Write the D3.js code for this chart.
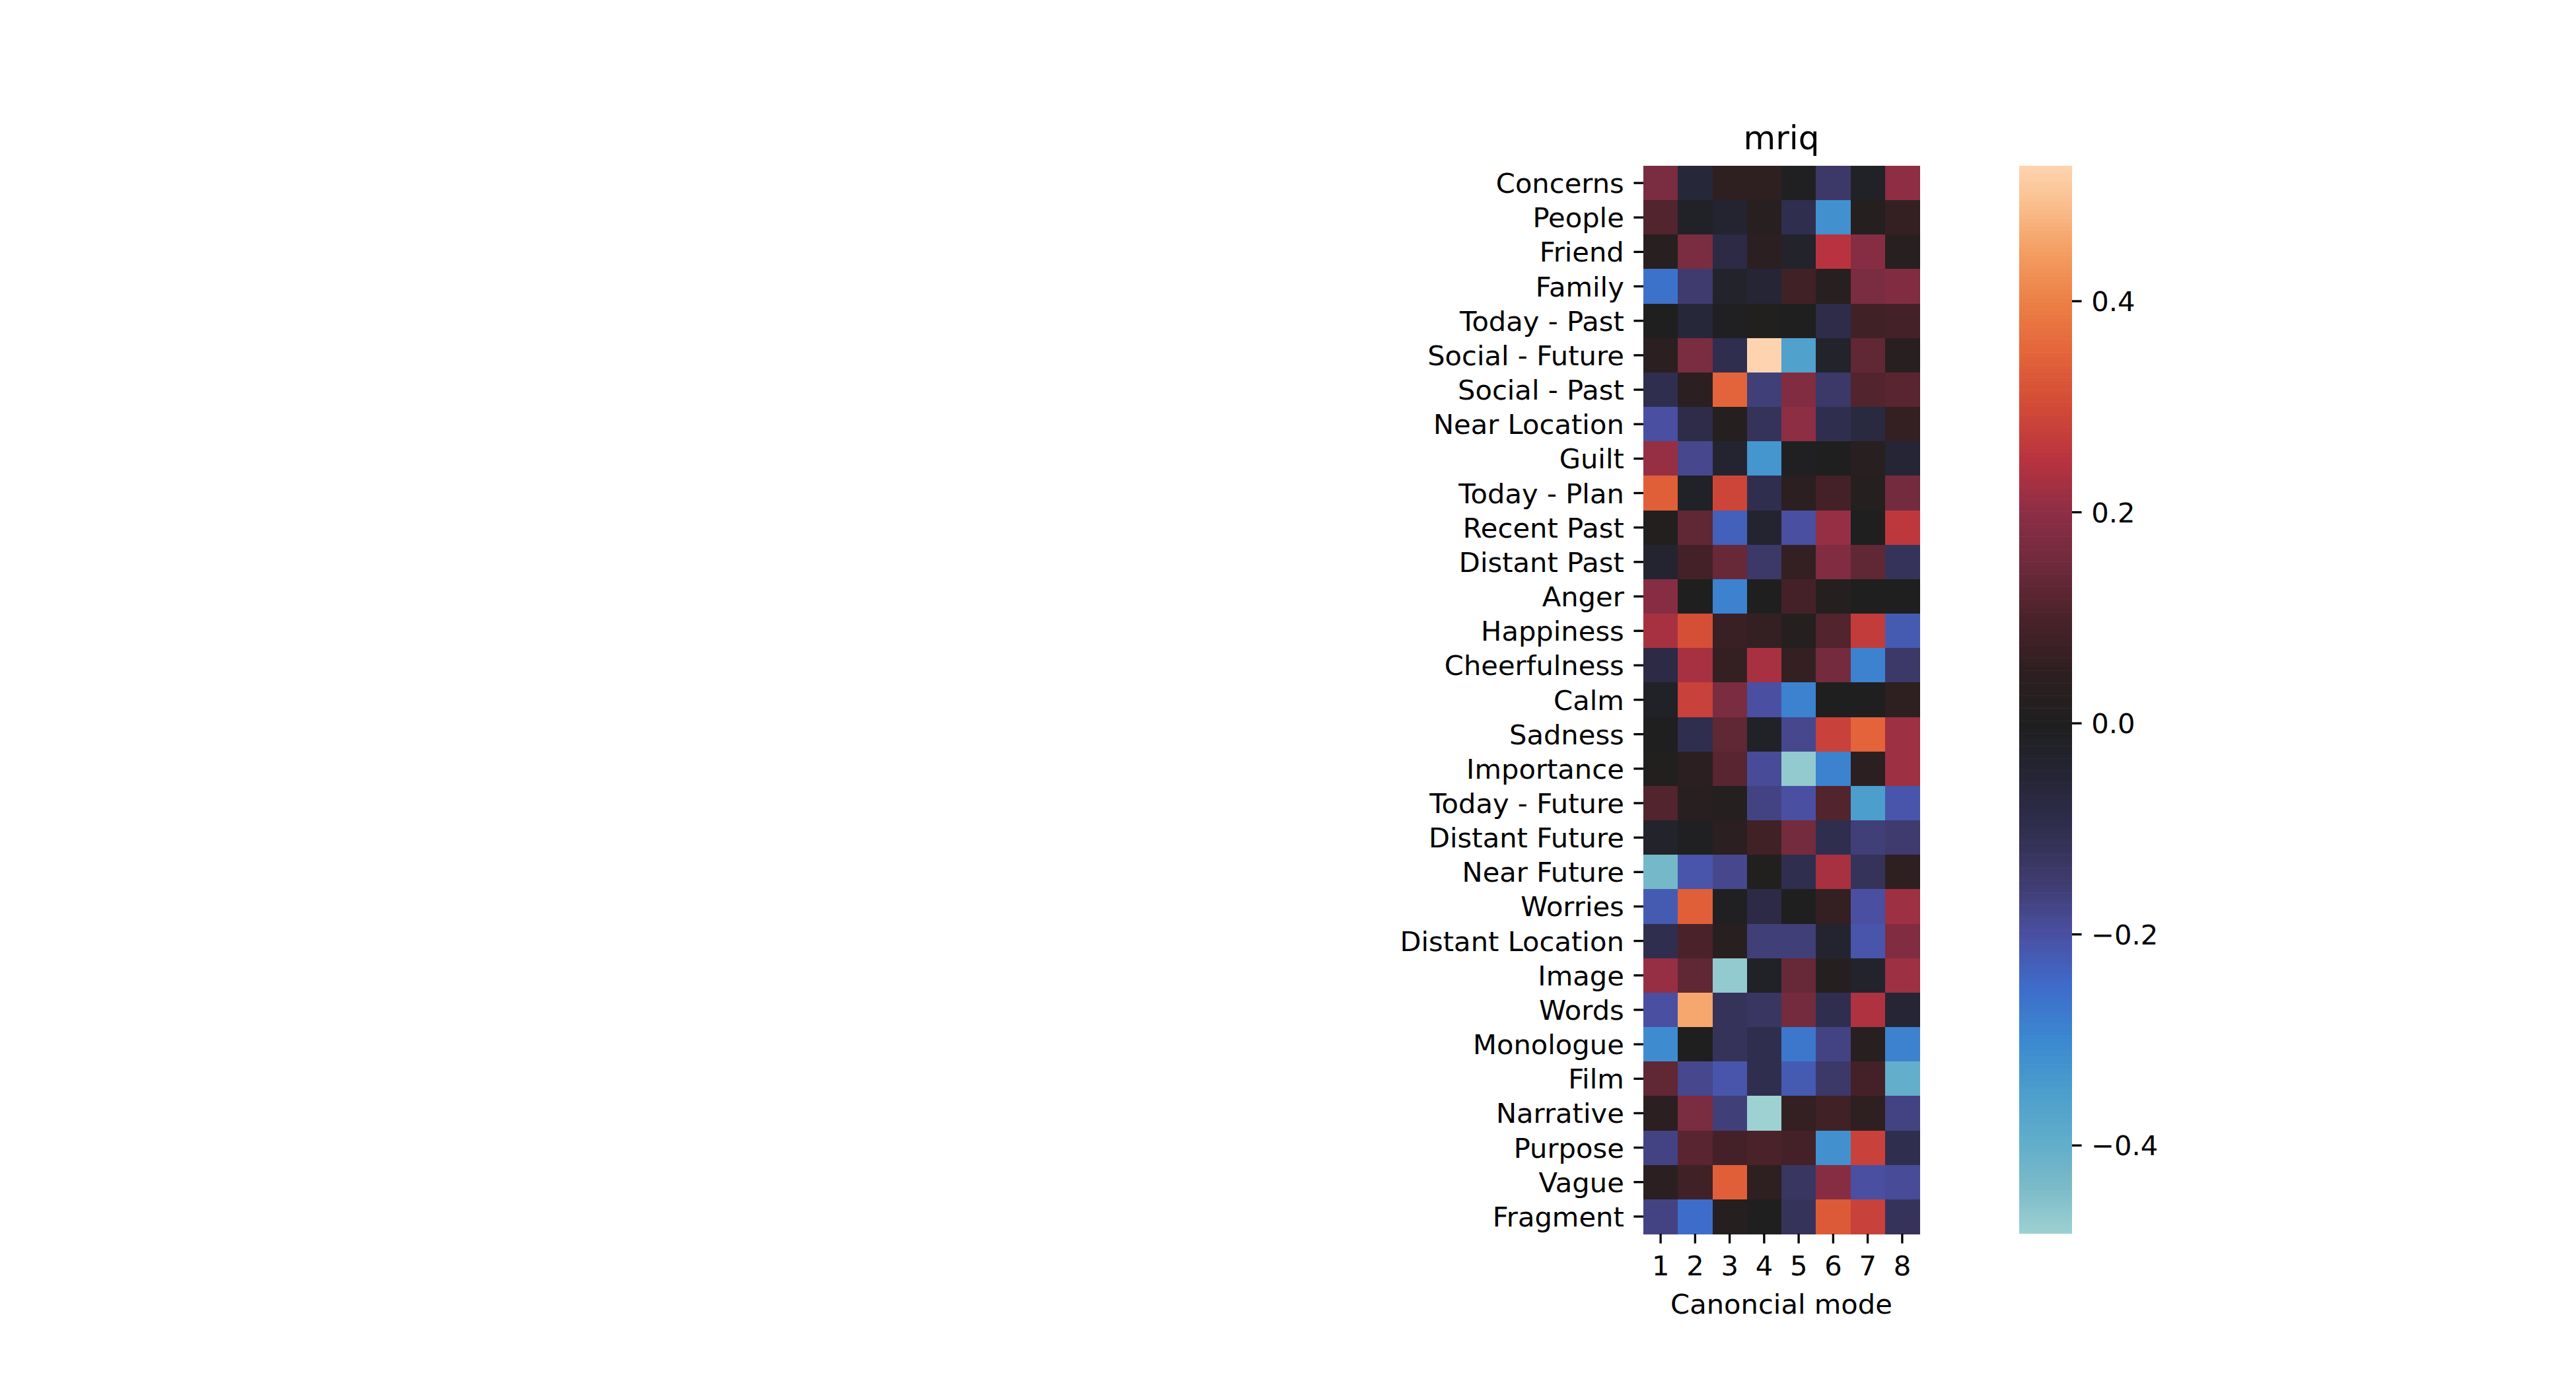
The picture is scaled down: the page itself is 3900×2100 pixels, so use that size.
<!DOCTYPE html>
<html>
<head>
<meta charset="utf-8">
<script src="https://cdn.jsdelivr.net/npm/d3@7"></script>
<style>
  html, body { margin: 0; padding: 0; background: #fff; }
  text { font-family: "DejaVu Sans", sans-serif; fill: #000; }
</style>
</head>
<body>
<div id="chart"></div>
<script>
// rows of the heatmap, top to bottom
var rowLabels = ["Concerns", "People", "Friend", "Family", "Today - Past", "Social - Future",
    "Social - Past", "Near Location", "Guilt", "Today - Plan", "Recent Past", "Distant Past",
    "Anger", "Happiness", "Cheerfulness", "Calm", "Sadness", "Importance", "Today - Future",
    "Distant Future", "Near Future", "Worries", "Distant Location", "Image", "Words",
    "Monologue", "Film", "Narrative", "Purpose", "Vague", "Fragment"];

// canonical modes (columns)
var modeLabels = ["1", "2", "3", "4", "5", "6", "7", "8"];

// loadings, one row per label, one value per mode
var values = [
    [ 0.17, -0.06,  0.05,  0.05, -0.01, -0.14, -0.02,  0.20],
    [ 0.11, -0.02, -0.04,  0.03, -0.10, -0.32,  0.02,  0.06],
    [ 0.03,  0.17, -0.08,  0.04, -0.03,  0.25,  0.19,  0.03],
    [-0.26, -0.15, -0.03, -0.05,  0.08,  0.03,  0.17,  0.18],
    [ 0.00, -0.06, -0.01,  0.01,  0.00, -0.09,  0.08,  0.09],
    [ 0.04,  0.17, -0.10,  0.528, -0.36, -0.03,  0.13,  0.03],
    [-0.10,  0.04,  0.35, -0.16,  0.18, -0.14,  0.11,  0.12],
    [-0.20, -0.09,  0.02, -0.12,  0.20, -0.10, -0.07,  0.06],
    [ 0.21, -0.18, -0.04, -0.33, -0.01,  0.00,  0.03, -0.05],
    [ 0.34, -0.02,  0.29, -0.10,  0.04,  0.09,  0.02,  0.16],
    [ 0.01,  0.13, -0.23, -0.04, -0.20,  0.21,  0.00,  0.26],
    [-0.04,  0.09,  0.14, -0.14,  0.06,  0.18,  0.13, -0.12],
    [ 0.19,  0.00, -0.29,  0.00,  0.09,  0.02,  0.00,  0.00],
    [ 0.23,  0.31,  0.07,  0.06,  0.02,  0.11,  0.27, -0.22],
    [-0.08,  0.23,  0.06,  0.23,  0.06,  0.16, -0.29, -0.14],
    [-0.02,  0.28,  0.17, -0.20, -0.29,  0.00,  0.00,  0.05],
    [ 0.00, -0.10,  0.13, -0.02, -0.18,  0.28,  0.35,  0.22],
    [ 0.01,  0.04,  0.12, -0.19, -0.47, -0.29,  0.04,  0.22],
    [ 0.11,  0.03,  0.02, -0.17, -0.20,  0.11, -0.35, -0.21],
    [-0.03, -0.01,  0.04,  0.08,  0.16, -0.10, -0.16, -0.15],
    [-0.43, -0.21, -0.18,  0.01, -0.10,  0.23, -0.12,  0.05],
    [-0.22,  0.34, -0.01, -0.08,  0.00,  0.06, -0.20,  0.22],
    [-0.10,  0.10,  0.03, -0.16, -0.16, -0.04, -0.21,  0.18],
    [ 0.21,  0.13, -0.47, -0.02,  0.14,  0.02, -0.03,  0.22],
    [-0.20,  0.46, -0.12, -0.13,  0.16, -0.10,  0.24, -0.05],
    [-0.31,  0.00, -0.12, -0.10, -0.27, -0.17,  0.03, -0.29],
    [ 0.13, -0.18, -0.21, -0.10, -0.22, -0.14,  0.09, -0.40],
    [ 0.04,  0.17, -0.16, -0.484, 0.06,  0.08,  0.05, -0.17],
    [-0.17,  0.12,  0.09,  0.10,  0.09, -0.32,  0.28, -0.10],
    [ 0.04,  0.08,  0.34,  0.05, -0.13,  0.19, -0.20, -0.19],
    [-0.17, -0.25,  0.02,  0.00, -0.12,  0.33,  0.28, -0.12]
];

var cbarTicks = [-0.4, -0.2, 0.0, 0.2, 0.4];

var title = "mriq",
    xTitle = "Canoncial mode";

/* icefire-like colormap stops (position in [0,1] -> colour) */
var icefireStops = [
    [0.0000, "#bde7db"], [0.0417, "#9dd1d2"], [0.0833, "#7bbbc8"], [0.1212, "#62aecb"],
    [0.1686, "#4c9ecc"], [0.2159, "#3b88d0"], [0.2633, "#3e6cca"], [0.3106, "#4a4fa2"],
    [0.3580, "#3f3b6e"], [0.4053, "#302e4e"], [0.4527, "#252535"], [0.5000, "#1f1f1f"],
    [0.5473, "#2e1f21"], [0.5947, "#4a222a"], [0.6420, "#6e2a3c"], [0.6894, "#8d2e45"],
    [0.7367, "#b8333f"], [0.7841, "#d24a36"], [0.8314, "#e3643a"], [0.8788, "#ec8046"],
    [0.9261, "#f4a064"], [0.9735, "#fbc495"], [1.0000, "#fed3af"]
];

var W = 3900, H = 2100;
var plot = {left: 2488, top: 251, width: 418, height: 1617};
var cbar = {left: 3057, top: 251, width: 80, height: 1617};
var FS = 41.67, TICK = 14.6, TICKW = 3.33;

var svg = d3.select("#chart").append("svg")
    .attr("width", W)
    .attr("height", H);

/* Scales */
var x = d3.scaleBand().domain(modeLabels).range([0, plot.width]);
var y = d3.scaleBand().domain(rowLabels).range([0, plot.height]);

var flat = d3.merge(values);
var ext = d3.extent(flat);
var vr = Math.max(Math.abs(ext[0]), Math.abs(ext[1]));   // centred on 0
var norm = d3.scaleLinear().domain([-vr, vr]).range([0, 1]);
var icefire = d3.scaleLinear()
    .domain(icefireStops.map(function(d){ return d[0]; }))
    .range(icefireStops.map(function(d){ return d[1]; }))
    .interpolate(d3.interpolateRgb)
    .clamp(true);
function color(v){ return icefire(norm(v)); }

/* Heatmap cells */
var main = svg.append("g")
    .attr("transform", "translate(" + plot.left + "," + plot.top + ")");

var cells = [];
values.forEach(function(row, i){
    row.forEach(function(v, j){
        cells.push({row: rowLabels[i], mode: modeLabels[j], value: v});
    });
});

main.selectAll(".cell")
    .data(cells)
    .enter()
    .append("rect")
        .attr("class", "cell")
        .attr("x", function(d){ return x(d.mode); })
        .attr("y", function(d){ return y(d.row); })
        .attr("width", x.bandwidth() + 0.5)
        .attr("height", y.bandwidth() + 0.5)
        .attr("shape-rendering", "crispEdges")
        .style("fill", function(d){ return color(d.value); });

function styleAxis(g){
    g.select(".domain").remove();
    g.selectAll(".tick line").attr("stroke", "#000").attr("stroke-width", TICKW);
    g.selectAll(".tick text")
        .style("font-family", "'DejaVu Sans', sans-serif")
        .style("font-size", FS + "px")
        .attr("fill", "#000");
}

/* Axes */
var yAxis = main.append("g")
    .call(d3.axisLeft(y).tickSize(TICK).tickPadding(TICK))
    .call(styleAxis);
yAxis.selectAll(".tick text").attr("dy", "0.36em");

var xAxis = main.append("g")
    .attr("transform", "translate(0," + plot.height + ")")
    .call(d3.axisBottom(x).tickSize(TICK).tickPadding(TICK))
    .call(styleAxis);
xAxis.selectAll(".tick text").attr("dy", "0.82em");

/* Titles */
svg.append("text")
    .attr("x", plot.left + plot.width / 2)
    .attr("y", 226)
    .attr("text-anchor", "middle")
    .style("font-size", "50px")
    .text(title);

svg.append("text")
    .attr("x", plot.left + plot.width / 2)
    .attr("y", 1989)
    .attr("text-anchor", "middle")
    .style("font-size", FS + "px")
    .text(xTitle);

/* Colorbar */
var cb = svg.append("g")
    .attr("transform", "translate(" + cbar.left + "," + cbar.top + ")");
var cy = d3.scaleLinear().domain(ext).range([cbar.height, 0]);
var steps = d3.range(256).map(function(k){
    return ext[0] + (ext[1] - ext[0]) * k / 255;
});
var stepH = cbar.height / 255;
cb.selectAll(".band")
    .data(steps)
    .enter()
    .append("rect")
        .attr("class", "band")
        .attr("x", 0)
        .attr("y", function(d){ return cy(d) - stepH / 2; })
        .attr("width", cbar.width)
        .attr("height", stepH + 0.6)
        .style("fill", function(d){ return color(d); });
// cover the half-steps that leak outside
cb.append("rect").attr("x", 0).attr("y", -stepH).attr("width", cbar.width).attr("height", stepH).style("fill", "#fff");
cb.append("rect").attr("x", 0).attr("y", cbar.height).attr("width", cbar.width).attr("height", stepH + 1).style("fill", "#fff");

var cAxis = cb.append("g")
    .attr("transform", "translate(" + cbar.width + ",0)")
    .call(d3.axisRight(cy).tickValues(cbarTicks).tickFormat(d3.format(".1f")).tickSize(TICK).tickPadding(TICK))
    .call(styleAxis);
cAxis.selectAll(".tick text").attr("dy", "0.36em");
</script>
</body>
</html>
